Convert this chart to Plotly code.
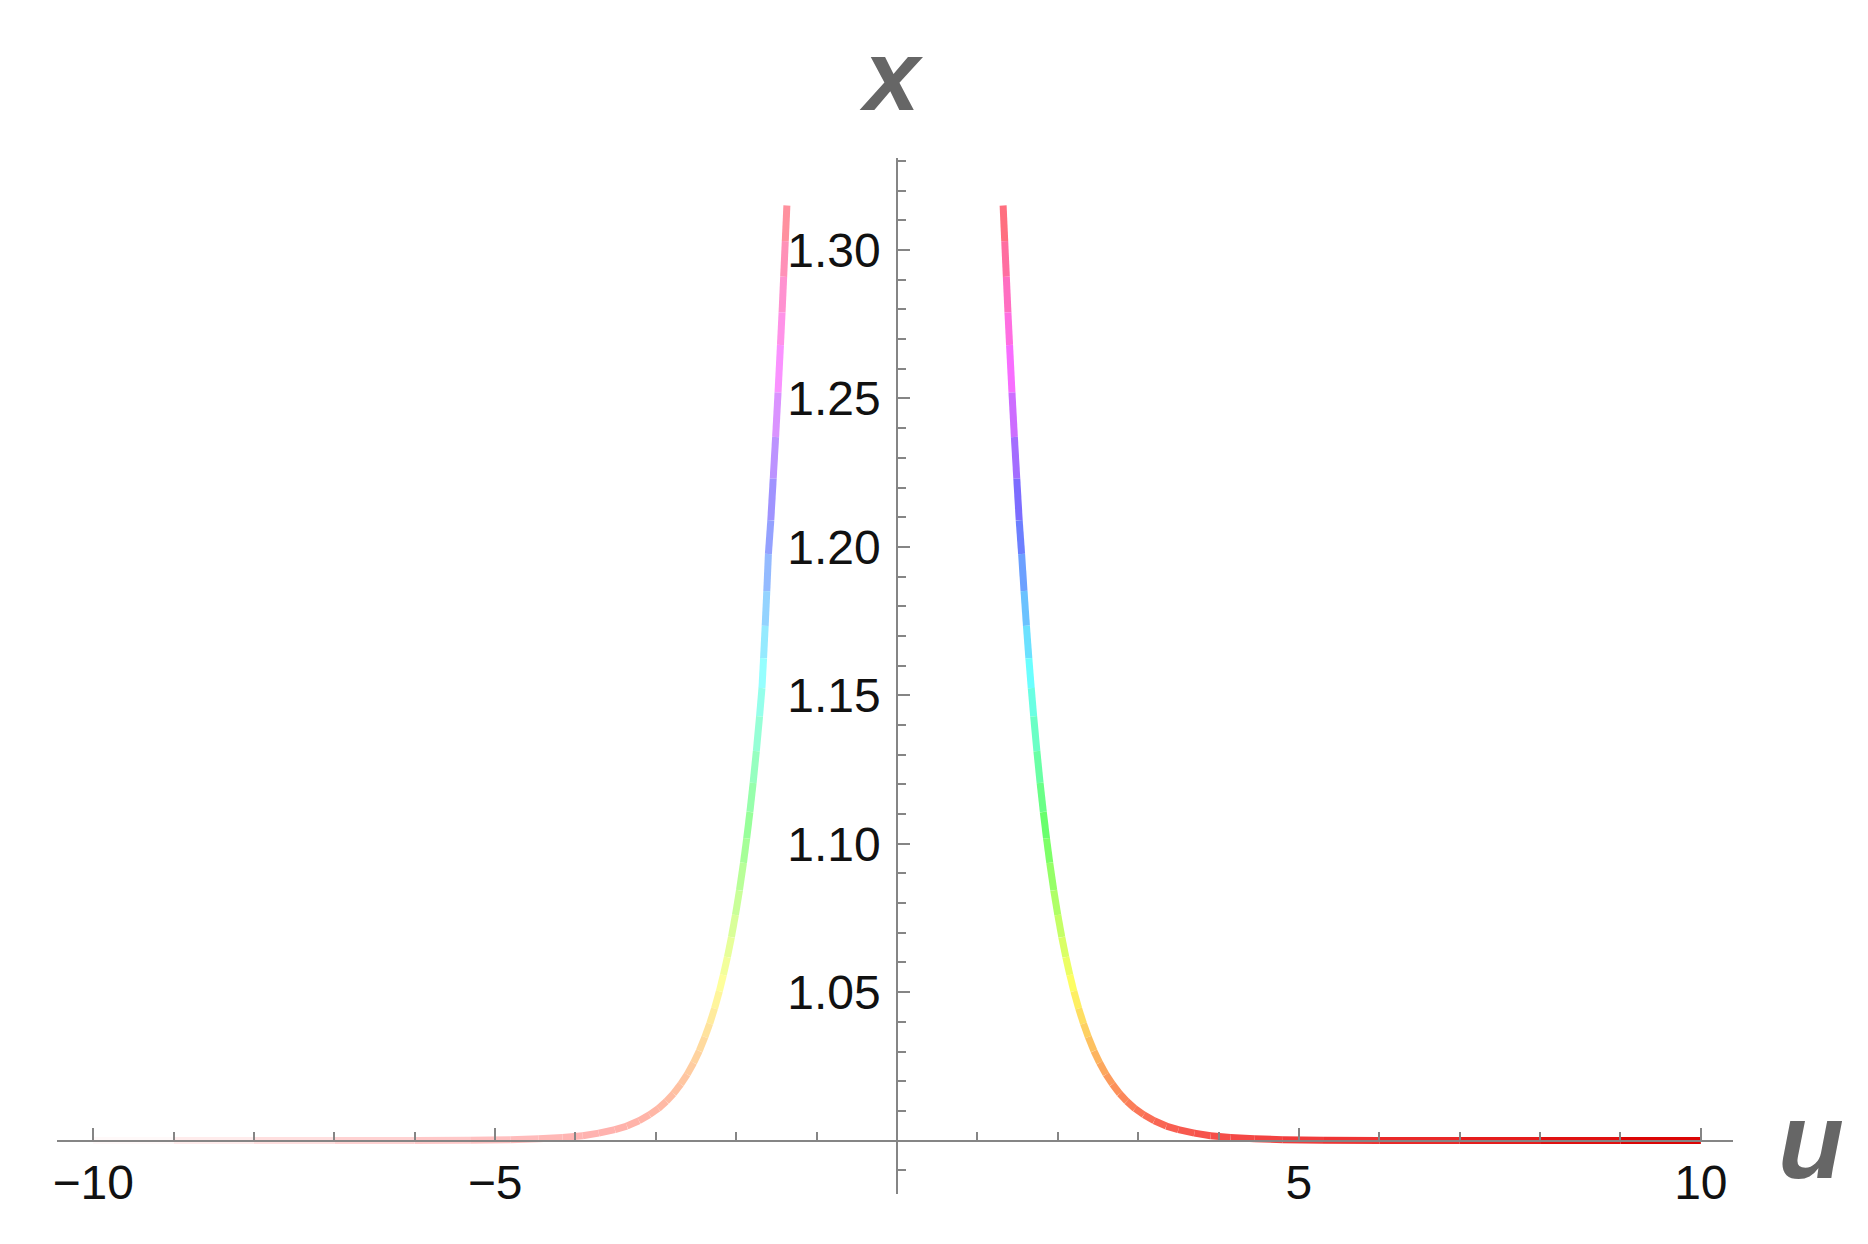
import colorsys
import plotly.graph_objects as go

# ---- data ----
U_RIGHT = [1.32, 1.34, 1.36, 1.38, 1.40, 1.43, 1.46, 1.49, 1.52, 1.55, 1.58, 1.61, 1.64, 1.67,
           1.70, 1.74, 1.78, 1.82, 1.86, 1.90, 1.95, 2.00, 2.05, 2.10, 2.15, 2.20, 2.26, 2.32,
           2.38, 2.45, 2.52, 2.60, 2.68, 2.77, 2.86, 2.96, 3.07, 3.20, 3.35, 3.50, 3.70, 3.90,
           4.15, 4.45, 4.80, 5.30, 6.00, 7.00, 8.00, 9.00, 10.0]
X_RIGHT = [1.315, 1.303, 1.291, 1.279, 1.268, 1.252, 1.237, 1.223, 1.209, 1.1976, 1.1851,
           1.1734, 1.1625, 1.1524, 1.1429, 1.1312, 1.1205, 1.1107, 1.1018, 1.0936, 1.0843,
           1.0760, 1.0685, 1.0618, 1.0558, 1.0503, 1.0445, 1.0394, 1.0349, 1.0302, 1.0262,
           1.0223, 1.0190, 1.0158, 1.0132, 1.0108, 1.0087, 1.0067, 1.0049, 1.0037, 1.0025,
           1.0016, 1.0010, 1.0006, 1.0003, 1.0001, 1.0, 1.0, 1.0, 1.0, 1.0]

U_LEFT = [-1.37, -1.39, -1.41, -1.43, -1.45, -1.48, -1.51, -1.54, -1.57, -1.60, -1.62, -1.64,
          -1.66, -1.68, -1.71, -1.75, -1.79, -1.83, -1.87, -1.91, -1.96, -2.01, -2.06, -2.11,
          -2.16, -2.21, -2.27, -2.33, -2.39, -2.46, -2.53, -2.61, -2.69, -2.78, -2.87, -2.97,
          -3.08, -3.21, -3.36, -3.51, -3.71, -3.91, -4.16, -4.46, -4.81, -5.31, -6.00, -7.00,
          -8.00, -9.00, -10.0]
X_LEFT = [1.315, 1.303, 1.291, 1.279, 1.268, 1.252, 1.237, 1.223, 1.209, 1.1976, 1.1851,
          1.1734, 1.1625, 1.1524, 1.1429, 1.1312, 1.1205, 1.1107, 1.1018, 1.0936, 1.0843,
          1.0760, 1.0685, 1.0618, 1.0558, 1.0503, 1.0445, 1.0394, 1.0349, 1.0302, 1.0262,
          1.0223, 1.0190, 1.0158, 1.0132, 1.0108, 1.0087, 1.0067, 1.0049, 1.0037, 1.0025,
          1.0016, 1.0010, 1.0006, 1.0003, 1.0001, 1.0, 1.0, 1.0, 1.0, 1.0]

X_TICKS = [-10, -5, 5, 10]
X_TICK_TEXT = ["\u221210", "\u22125", "5", "10"]
X_MINOR = [-9, -8, -7, -6, -4, -3, -2, -1, 1, 2, 3, 4, 6, 7, 8, 9]

Y_TICKS = [1.05, 1.10, 1.15, 1.20, 1.25, 1.30]
Y_TICK_TEXT = ["1.05", "1.10", "1.15", "1.20", "1.25", "1.30"]
Y_MINOR = [0.99, 1.01, 1.02, 1.03, 1.04, 1.06, 1.07, 1.08, 1.09, 1.11, 1.12, 1.13, 1.14,
           1.16, 1.17, 1.18, 1.19, 1.21, 1.22, 1.23, 1.24, 1.26, 1.27, 1.28, 1.29, 1.31,
           1.32, 1.33]

X_RANGE = [-10.45, 10.4]
Y_RANGE = [0.982, 1.331]


def seg_color(u, x):
    h = min(max((x - 1.0) / 0.315, 0.0), 0.999)
    s = min(max((u + 10.0) / 20.0, 0.0), 1.0)
    v = 1.0 - 0.15 * max(0.0, (s - 0.6) / 0.4)
    r, g, b = colorsys.hsv_to_rgb(h, s, v)
    return "rgb(%d,%d,%d)" % (round(r * 255), round(g * 255), round(b * 255))


fig = go.Figure()
for us, xs in ((U_LEFT, X_LEFT), (U_RIGHT, X_RIGHT)):
    for i in range(len(us) - 1):
        um = 0.5 * (us[i] + us[i + 1])
        xm = 0.5 * (xs[i] + xs[i + 1])
        fig.add_trace(go.Scatter(
            x=[us[i], us[i + 1]], y=[xs[i], xs[i + 1]], mode="lines",
            line=dict(color=seg_color(um, xm), width=7),
            hoverinfo="skip", showlegend=False))

axis_col = "#858585"
tick_font = dict(family="Liberation Sans, Arial, sans-serif", size=48, color="#111111")

x_pos = (1.0 - Y_RANGE[0]) / (Y_RANGE[1] - Y_RANGE[0])
y_pos = (0.0 - X_RANGE[0]) / (X_RANGE[1] - X_RANGE[0])

fig.update_layout(
    width=1868, height=1244,
    margin=dict(l=49, r=143, t=150, b=58),
    paper_bgcolor="white", plot_bgcolor="white",
    showlegend=False,
    xaxis=dict(range=X_RANGE, domain=[0, 1], showgrid=False, zeroline=False,
               showline=True, linecolor=axis_col, linewidth=1.5,
               anchor="free", position=x_pos, side="bottom",
               tickmode="array", tickvals=X_TICKS, ticktext=X_TICK_TEXT,
               ticks="inside", ticklen=12, tickwidth=1.5, tickcolor=axis_col,
               tickfont=tick_font,
               minor=dict(tickmode="array", tickvals=X_MINOR, ticks="inside",
                          ticklen=8, tickwidth=1.5, tickcolor=axis_col, showgrid=False)),
    yaxis=dict(range=Y_RANGE, domain=[0, 1], showgrid=False, zeroline=False,
               showline=True, linecolor=axis_col, linewidth=1.5,
               anchor="free", position=y_pos, side="left",
               tickmode="array", tickvals=Y_TICKS, ticktext=Y_TICK_TEXT,
               ticks="inside", ticklen=12, tickwidth=1.5, tickcolor=axis_col,
               tickfont=tick_font, ticklabelstandoff=6,
               minor=dict(tickmode="array", tickvals=Y_MINOR, ticks="inside",
                          ticklen=8, tickwidth=1.5, tickcolor=axis_col, showgrid=False)),
    annotations=[
        dict(text="<b><i>x</i></b>", xref="paper", yref="paper", x=0.4976, y=1.080,
             xanchor="center", yanchor="middle", showarrow=False,
             font=dict(family="Liberation Sans, Arial, sans-serif", size=100, color="#666666")),
        dict(text="<b><i>u</i></b>", xref="paper", yref="paper", x=1.0466, y=0.052,
             xanchor="center", yanchor="middle", showarrow=False,
             font=dict(family="Liberation Sans, Arial, sans-serif", size=108, color="#666666")),
    ],
)

fig.write_html("out.html")
